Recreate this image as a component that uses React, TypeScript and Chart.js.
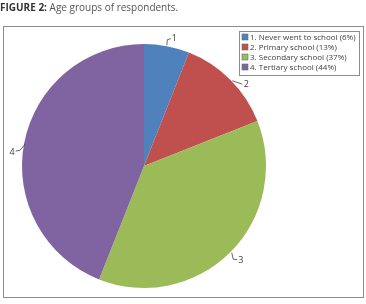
import React, { useEffect, useRef } from "react";
import { Chart, registerables } from "chart.js";

Chart.register(...registerables);

const categories = [
  "1. Never went to school (6%)",
  "2. Primary school (13%)",
  "3. Secondary school (37%)",
  "4. Tertiary school (44%)",
];
const sliceLabels = ["1", "2", "3", "4"];
const values = [6, 13, 37, 44];
const colors = ["#4F81BD", "#C0504D", "#9BBB59", "#8064A2"];
const titleBold = "FIGURE 2:";
const titleRest = " Age groups of respondents.";

const FONT = "'Open Sans', 'DejaVu Sans', sans-serif";

// leader-line style offsets relative to each slice's mid-arc point: start, elbow, end, text
const leaderStyle = [
  { s: [0, -1], e: [0.5, -6.5], t: [4, -7.5], l: [5, -7.5], align: "left" },
  { s: [2, 1], e: [2, 1], t: [12, 4.5], l: [13.5, 4.5], align: "left" },
  { s: [1.5, 0.5], e: [3, 7], t: [7, 7.5], l: [8, 8], align: "left" },
  { s: [1, 1], e: [-4, 7], t: [-8.5, 8], l: [-9.5, 9], align: "right" },
];

const decorPlugin = {
  id: "decor",
  beforeDraw(chart: any) {
    const ctx = chart.ctx;
    ctx.save();
    ctx.fillStyle = "#ffffff";
    ctx.fillRect(0, 0, chart.width, chart.height);
    ctx.textBaseline = "alphabetic";
    ctx.textAlign = "left";
    ctx.font = `bold 10px ${FONT}`;
    ctx.fillStyle = "#333333";
    ctx.fillText(titleBold, 0, 11);
    const w = ctx.measureText(titleBold).width;
    ctx.font = `10px ${FONT}`;
    ctx.fillStyle = "#555555";
    ctx.fillText(titleRest, w, 11);
    ctx.strokeStyle = "#8c8c8c";
    ctx.lineWidth = 1;
    ctx.strokeRect(3.5, 26.5, 360, 271);
    ctx.restore();
  },
  afterDraw(chart: any) {
    const ctx = chart.ctx;
    ctx.save();
    const meta = chart.getDatasetMeta(0);
    ctx.font = `9px ${FONT}`;
    ctx.fillStyle = "#404040";
    ctx.strokeStyle = "#404040";
    ctx.lineWidth = 0.8;
    meta.data.forEach((arc: any, i: number) => {
      const p = arc.getProps(["x", "y", "startAngle", "endAngle", "outerRadius"], true);
      const mid = (p.startAngle + p.endAngle) / 2;
      const mx = p.x + Math.cos(mid) * p.outerRadius;
      const my = p.y + Math.sin(mid) * p.outerRadius;
      const st = leaderStyle[i];
      ctx.beginPath();
      ctx.moveTo(mx + st.s[0], my + st.s[1]);
      ctx.lineTo(mx + st.e[0], my + st.e[1]);
      ctx.lineTo(mx + st.t[0], my + st.t[1]);
      ctx.stroke();
      ctx.textBaseline = "middle";
      ctx.textAlign = st.align;
      ctx.fillText(sliceLabels[i], mx + st.l[0], my + st.l[1]);
    });
    const lx = 239.5, ly = 31.5, lw = 120, lh = 44;
    ctx.fillStyle = "#ffffff";
    ctx.fillRect(lx, ly, lw, lh);
    ctx.strokeStyle = "#8c8c8c";
    ctx.lineWidth = 1;
    ctx.strokeRect(lx, ly, lw, lh);
    ctx.font = `8px ${FONT}`;
    ctx.textAlign = "left";
    ctx.textBaseline = "middle";
    categories.forEach((c, i) => {
      const cy = 37 + i * 10;
      ctx.fillStyle = colors[i];
      ctx.fillRect(242, cy - 3, 6, 6);
      ctx.strokeStyle = "#6b6b6b";
      ctx.lineWidth = 0.6;
      ctx.strokeRect(242, cy - 3, 6, 6);
      ctx.fillStyle = "#404040";
      ctx.fillText(c, 250, cy + 0.5);
    });
    ctx.restore();
  },
};

export default function App() {
  const ref = useRef<HTMLCanvasElement>(null);
  useEffect(() => {
    document.body.style.margin = "0";
    const chart = new Chart(ref.current!, {
      type: "pie",
      data: {
        labels: categories,
        datasets: [
          {
            data: values,
            backgroundColor: colors,
            borderWidth: 0,
          },
        ],
      },
      options: {
        animation: false,
        responsive: false,
        maintainAspectRatio: false,
        layout: { padding: { left: 22, right: 100, top: 44, bottom: 16 } },
        plugins: {
          legend: { display: false },
          tooltip: { enabled: false },
          title: { display: false },
        },
      },
      plugins: [decorPlugin],
    });
    return () => chart.destroy();
  }, []);
  return (
    <div style={{ width: 366, height: 304 }}>
      <canvas ref={ref} width={366} height={304} style={{ display: "block" }} />
    </div>
  );
}
